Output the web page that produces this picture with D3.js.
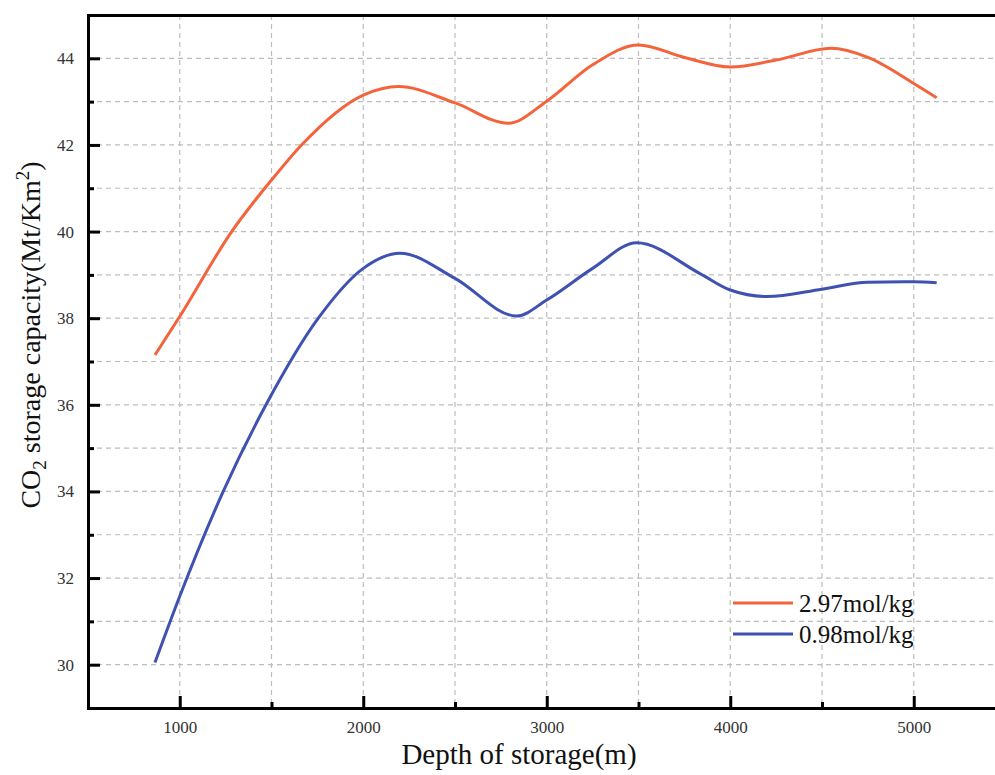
<!DOCTYPE html>
<html>
<head>
<meta charset="utf-8">
<script src="https://cdn.jsdelivr.net/npm/d3@7"></script>
<style>
  body { margin: 0; background: #fff; }
  svg text { font-family: "Liberation Serif", "Times New Roman", serif; }
</style>
</head>
<body>
<div id="container"></div>
<script>
/* DATA */
const depthHigh = [865, 1000, 1283, 1500, 1664, 2000, 2191, 2500, 2790, 3000, 3250, 3500, 3750, 4000, 4250, 4550, 4750, 5000, 5125];
const capHigh   = [37.15, 38.04, 40.0, 41.19, 42.0, 43.15, 43.35, 42.97, 42.5, 43.01, 43.85, 44.31, 44.02, 43.8, 43.96, 44.23, 44.02, 43.42, 43.09];
const depthLow  = [865, 1000, 1237, 1470, 1755, 2000, 2200, 2500, 2836, 3000, 3250, 3490, 3835, 4000, 4200, 4500, 4750, 5000, 5125];
const capLow    = [30.05, 31.58, 34.0, 36.0, 38.0, 39.15, 39.5, 38.92, 38.05, 38.42, 39.15, 39.74, 39.03, 38.65, 38.5, 38.67, 38.83, 38.84, 38.82];
const seriesNames = ["2.97mol/kg", "0.98mol/kg"];
const xMajor = [1000, 2000, 3000, 4000, 5000];
const xMinor = [1500, 2500, 3500, 4500];
const yMajor = [30, 32, 34, 36, 38, 40, 42, 44];
const yMinor = [31, 33, 35, 37, 39, 41, 43];

/* CONSTANTS */
const width = 995, height = 775,
  margin = { top: 15, left: 88, bottom: 708, right: 1005.5 };
const colors = ["#f4643c", "#3f51b1"];

const svg = d3.select("#container")
  .append("svg")
  .attr("width", width)
  .attr("height", height)

const x = d3.scaleLinear().domain([500, 5500]).range([margin.left, margin.right])
const y = d3.scaleLinear().domain([29, 45]).range([margin.bottom, margin.top])

// GRID
const gridX = xMajor.concat(xMinor)
const gridY = yMajor.concat(yMinor)
svg.append("g")
  .selectAll("line")
  .data(gridX)
  .join("line")
  .attr("x1", d => x(d)).attr("x2", d => x(d))
  .attr("y1", margin.top).attr("y2", margin.bottom)
  .attr("stroke", "#bdbdbd")
  .attr("stroke-width", 1.2)
  .attr("stroke-dasharray", "5,4")
svg.append("g")
  .selectAll("line")
  .data(gridY)
  .join("line")
  .attr("y1", d => y(d)).attr("y2", d => y(d))
  .attr("x1", margin.left).attr("x2", margin.right)
  .attr("stroke", "#bdbdbd")
  .attr("stroke-width", 1.2)
  .attr("stroke-dasharray", "5,4")

// LINES - smooth curve through the read points
const lineGen = d3.line()
  .x(d => x(d[0]))
  .y(d => y(d[1]))
  .curve(d3.curveMonotoneX)

const series = [
  d3.zip(depthHigh, capHigh),
  d3.zip(depthLow, capLow)
]
svg.selectAll("path.series")
  .data(series)
  .join("path")
  .attr("class", "series")
  .attr("d", d => lineGen(d))
  .attr("fill", "none")
  .attr("stroke", (d, i) => colors[i])
  .attr("stroke-width", 3)

// AXES
svg.append("g")
  .attr("transform", `translate(0,${margin.bottom})`)
  .call(d3.axisBottom(x).tickValues(xMajor).tickSize(-12).tickPadding(13).tickFormat(d3.format("d")))
svg.append("g")
  .attr("transform", `translate(0,${margin.bottom})`)
  .call(d3.axisBottom(x).tickValues(xMinor).tickSize(-6).tickFormat(""))
svg.append("g")
  .attr("transform", `translate(${margin.left},0)`)
  .call(d3.axisLeft(y).tickValues(yMajor).tickSize(-12).tickPadding(14))
svg.append("g")
  .attr("transform", `translate(${margin.left},0)`)
  .call(d3.axisLeft(y).tickValues(yMinor).tickSize(-6).tickFormat(""))
svg.append("g")
  .attr("transform", `translate(0,${margin.top})`)
  .call(d3.axisTop(x).tickValues([]).tickSizeOuter(0))

svg.selectAll(".domain").attr("stroke", "#000").attr("stroke-width", 3)
svg.selectAll(".tick line").attr("stroke", "#000").attr("stroke-width", 3)
svg.selectAll(".tick text")
  .attr("font-family", "Liberation Serif, serif")
  .attr("font-size", 17)
  .attr("fill", "#333")

// AXIS TITLES
svg.append("text")
  .attr("x", 519)
  .attr("y", 764)
  .attr("text-anchor", "middle")
  .attr("font-size", 29)
  .attr("fill", "#111")
  .text("Depth of storage(m)")

const yTitle = svg.append("text")
  .attr("transform", "translate(40,335) rotate(-90)")
  .attr("text-anchor", "middle")
  .attr("font-size", 28)
  .attr("fill", "#111")
yTitle.append("tspan").text("CO")
yTitle.append("tspan").attr("font-size", 19).attr("dy", 6).text("2")
yTitle.append("tspan").attr("dy", -6).text(" storage capacity(Mt/Km")
yTitle.append("tspan").attr("font-size", 19).attr("dy", -11).text("2")
yTitle.append("tspan").attr("dy", 11).text(")")

// LEGEND
const legend = svg.append("g")
  .selectAll("g")
  .data(seriesNames)
  .join("g")
  .attr("transform", (d, i) => `translate(733,${603 + i * 31})`)
legend.append("line")
  .attr("x1", 0).attr("x2", 60)
  .attr("stroke", (d, i) => colors[i])
  .attr("stroke-width", 3)
legend.append("text")
  .attr("x", 66)
  .attr("y", 9)
  .attr("font-size", 25)
  .attr("fill", "#111")
  .text(d => d)
</script>
</body>
</html>
